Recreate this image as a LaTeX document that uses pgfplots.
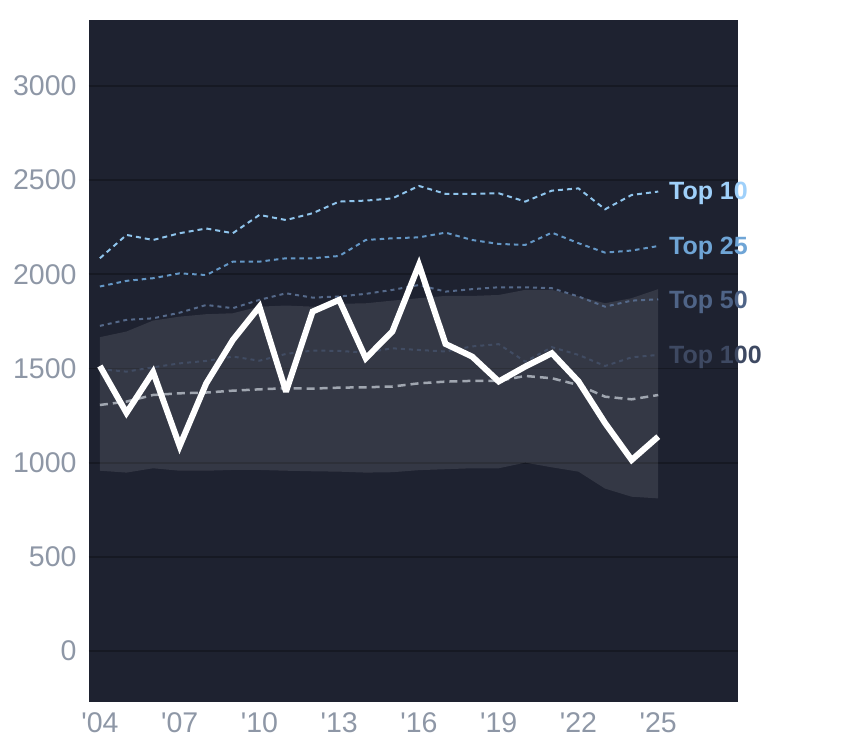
\documentclass[border=0pt]{standalone}
\usepackage{fontspec}
\setmainfont{Liberation Sans}
\usepackage{pgfplots}
\pgfplotsset{compat=1.18}
\definecolor{bg}{HTML}{1E2230}
\definecolor{gridc}{HTML}{161923}
\definecolor{tickc}{HTML}{8E97A6}
\definecolor{medc}{HTML}{A0A6B0}
\definecolor{t10}{HTML}{8FC4EC}
\definecolor{t25}{HTML}{6497C6}
\definecolor{t50}{HTML}{55698A}
\definecolor{t100}{HTML}{414C63}
\definecolor{l10}{HTML}{9FD0FA}
\definecolor{l25}{HTML}{6FA5D6}
\definecolor{l50}{HTML}{4F6487}
\definecolor{l100}{HTML}{3E4962}
\begin{document}
\begin{tikzpicture}
\useasboundingbox (0,0) rectangle (844pt,748pt);
\begin{axis}[
  at={(89pt,46pt)}, anchor=south west,
  scale only axis, width=649pt, height=682pt,
  xmin=2003.59, xmax=2028.0, ymin=-271, ymax=3350,
  axis background/.style={fill=bg},
  axis line style={draw=none},
  major tick length=0pt,
  clip=false,
  ymajorgrids, grid style={gridc, line width=1.8pt},
  ytick={0,500,1000,1500,2000,2500,3000},
  yticklabels={0,500,1000,1500,2000,2500,3000},
  xtick={2004,2007,2010,2013,2016,2019,2022,2025},
  xticklabels={\textquotesingle04,\textquotesingle07,\textquotesingle10,\textquotesingle13,\textquotesingle16,\textquotesingle19,\textquotesingle22,\textquotesingle25},
  tick label style={font=\fontsize{28.5}{32}\selectfont, text=tickc},
  yticklabel style={xshift=-9pt},
  xticklabel style={yshift=-7pt},
]
% band
\addplot[draw=none, fill=white, fill opacity=0.1] coordinates {
(2004,1666)(2005,1696)(2006,1754)(2007,1775)(2008,1788)(2009,1793)(2010,1828)(2011,1834)(2012,1828)(2013,1843)(2014,1846)(2015,1860)(2016,1873)(2017,1885)(2018,1885)(2019,1890)(2020,1917)(2021,1917)(2022,1882)(2023,1846)(2024,1873)(2025,1921)
(2025,810)(2024,819)(2023,862)(2022,952)(2021,975)(2020,1000)(2019,970)(2018,970)(2017,965)(2016,960)(2015,949)(2014,947)(2013,952)(2012,954)(2011,957)(2010,961)(2009,961)(2008,957)(2007,957)(2006,970)(2005,947)(2004,957)
};
% median
\addplot[medc, line width=2.5pt, dash pattern=on 8pt off 5pt] coordinates {
(2004,1306)(2005,1324)(2006,1359)(2007,1368)(2008,1372)(2009,1382)(2010,1389)(2011,1395)(2012,1393)(2013,1398)(2014,1400)(2015,1404)(2016,1421)(2017,1430)(2018,1434)(2019,1434)(2020,1460)(2021,1448)(2022,1412)(2023,1350)(2024,1336)(2025,1359)
};
% top 100
\addplot[t100, line width=2pt, dash pattern=on 4pt off 4pt] coordinates {
(2004,1496)(2005,1483)(2006,1506)(2007,1527)(2008,1540)(2009,1563)(2010,1541)(2011,1577)(2012,1595)(2013,1593)(2014,1584)(2015,1607)(2016,1598)(2017,1590)(2018,1617)(2019,1629)(2020,1536)(2021,1613)(2022,1572)(2023,1513)(2024,1559)(2025,1572)
};
% top 50
\addplot[t50, line width=2pt, dash pattern=on 4pt off 4pt] coordinates {
(2004,1726)(2005,1758)(2006,1766)(2007,1796)(2008,1837)(2009,1820)(2010,1864)(2011,1899)(2012,1876)(2013,1882)(2014,1896)(2015,1917)(2016,1943)(2017,1908)(2018,1921)(2019,1931)(2020,1931)(2021,1926)(2022,1882)(2023,1828)(2024,1860)(2025,1867)
};
% top 25
\addplot[t25, line width=2pt, dash pattern=on 4.5pt off 4pt] coordinates {
(2004,1935)(2005,1965)(2006,1979)(2007,2005)(2008,1996)(2009,2067)(2010,2067)(2011,2085)(2012,2085)(2013,2097)(2014,2182)(2015,2191)(2016,2196)(2017,2221)(2018,2182)(2019,2161)(2020,2156)(2021,2221)(2022,2165)(2023,2115)(2024,2126)(2025,2150)
};
% top 10
\addplot[t10, line width=2pt, dash pattern=on 5pt off 4pt] coordinates {
(2004,2085)(2005,2209)(2006,2182)(2007,2218)(2008,2243)(2009,2218)(2010,2315)(2011,2288)(2012,2324)(2013,2386)(2014,2391)(2015,2403)(2016,2469)(2017,2427)(2018,2427)(2019,2430)(2020,2386)(2021,2444)(2022,2456)(2023,2345)(2024,2421)(2025,2439)
};
% main
\addplot[white, line width=6pt, line join=miter, miter limit=3] coordinates {
(2004,1513)(2005,1264)(2006,1481)(2007,1088)(2008,1421)(2009,1651)(2010,1828)(2011,1377)(2012,1802)(2013,1864)(2014,1554)(2015,1696)(2016,2050)(2017,1630)(2018,1563)(2019,1431)(2020,1510)(2021,1581)(2022,1431)(2023,1210)(2024,1014)(2025,1138)
};
\node[anchor=west, text=l10, font=\bfseries\fontsize{25}{29}\selectfont, inner sep=0pt] at (axis cs:2025.4,2428) {Top 10};
\node[anchor=west, text=l25, font=\bfseries\fontsize{25}{29}\selectfont, inner sep=0pt] at (axis cs:2025.4,2135) {Top 25};
\node[anchor=west, text=l50, font=\bfseries\fontsize{25}{29}\selectfont, inner sep=0pt] at (axis cs:2025.4,1849) {Top 50};
\node[anchor=west, text=l100, font=\bfseries\fontsize{25}{29}\selectfont, inner sep=0pt] at (axis cs:2025.4,1557) {Top 100};
\end{axis}
\end{tikzpicture}
\end{document}
